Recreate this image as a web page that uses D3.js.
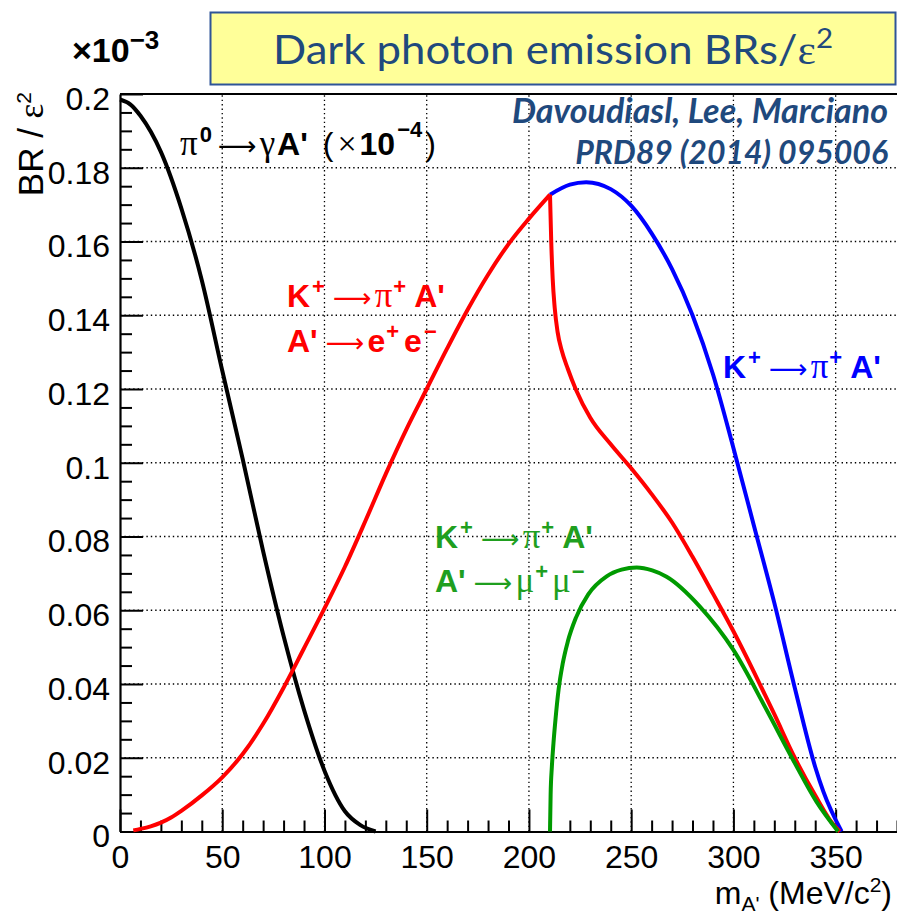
<!DOCTYPE html>
<html>
<head>
<meta charset="utf-8">
<script src="https://cdn.jsdelivr.net/npm/d3@7/dist/d3.min.js"></script>
<style>
body { margin: 0; background: #fff; }
svg { display: block; }
</style>
</head>
<body>
<svg id="chart" width="897" height="914"></svg>
<script>
// curves, x in MeV/c^2, y in units of 1e-3
var pi0X = [0, 5, 10, 20, 30, 40, 50, 60, 70, 80, 90, 100, 110, 117.4, 125];
var pi0Y = [0.1985, 0.1972, 0.1941, 0.1843, 0.169, 0.1495, 0.125, 0.101, 0.076, 0.053, 0.033, 0.0165, 0.0055, 0.0018, 0];

var eeRiseX = [6.5, 10, 15, 20, 25, 30, 40, 50, 60, 70, 80, 90, 100, 110, 120, 130, 140, 150, 160, 170, 180, 190, 200, 210.3];
var eeRiseY = [0.0003, 0.0007, 0.0014, 0.0024, 0.0038, 0.0056, 0.0098, 0.0147, 0.021, 0.0292, 0.039, 0.0497, 0.0605, 0.0718, 0.0842, 0.097, 0.109, 0.12, 0.131, 0.1415, 0.151, 0.1593, 0.1662, 0.1727];

var eeFallX = [210.3, 210.9, 211.6, 212.6, 214, 216, 219, 223, 230, 240, 250, 260, 270, 280, 290, 300, 310, 320, 330, 340, 348, 352];
var eeFallY = [0.1727, 0.16, 0.15, 0.142, 0.1355, 0.1305, 0.1255, 0.1198, 0.1122, 0.105, 0.0985, 0.0915, 0.0838, 0.0745, 0.0645, 0.0543, 0.0433, 0.0318, 0.02, 0.0098, 0.0025, 0];

var kpiX = [210.3, 220, 228, 240, 250, 260, 270, 280, 290, 300, 310, 320, 330, 340, 344, 352.9];
var kpiY = [0.1727, 0.1754, 0.1761, 0.1742, 0.1697, 0.1622, 0.1525, 0.14, 0.124, 0.104, 0.083, 0.062, 0.039, 0.0175, 0.0108, 0];

var mumuX = [210.3, 210.6, 211.2, 212, 213, 214.5, 216.5, 219, 223, 229, 238, 245.3, 252.7, 260.3, 267.3, 283.6, 299.9, 316.2, 329.2, 340.6, 351.2];
var mumuY = [0, 0.01, 0.0175, 0.024, 0.0305, 0.0385, 0.0455, 0.0515, 0.058, 0.0643, 0.0692, 0.071, 0.0716, 0.0708, 0.0691, 0.061, 0.0493, 0.033, 0.0194, 0.0081, 0];

var xTicks = [0, 50, 100, 150, 200, 250, 300, 350];
var xTickLabels = ["0", "50", "100", "150", "200", "250", "300", "350"];
var yTicks = [0, 0.02, 0.04, 0.06, 0.08, 0.1, 0.12, 0.14, 0.16, 0.18, 0.2];
var yTickLabels = ["0", "0.02", "0.04", "0.06", "0.08", "0.1", "0.12", "0.14", "0.16", "0.18", "0.2"];

var svg = d3.select("#chart");
var sans = "'Liberation Sans', Arial, sans-serif";
var serif = "'Liberation Serif', 'DejaVu Serif', serif";

var x = d3.scaleLinear().domain([0, 380]).range([120, 897]);
var y = d3.scaleLinear().domain([0, 0.2]).range([831.5, 94]);

function pts(xs, ys) {
	return xs.map(function(d, i) { return [d, ys[i]]; });
}

//grid
svg.append("g").selectAll("line").data(xTicks.slice(1)).enter()
	.append("line")
	.attr("x1", function(d) { return x(d); })
	.attr("x2", function(d) { return x(d); })
	.attr("y1", y(0))
	.attr("y2", y(0.2))
	.attr("stroke", "#000")
	.attr("stroke-width", 1.3)
	.attr("stroke-dasharray", "1.4,3");
svg.append("g").selectAll("line").data(yTicks.slice(1, -1)).enter()
	.append("line")
	.attr("x1", x(0))
	.attr("x2", 897)
	.attr("y1", function(d) { return y(d); })
	.attr("y2", function(d) { return y(d); })
	.attr("stroke", "#000")
	.attr("stroke-width", 1.3)
	.attr("stroke-dasharray", "1.4,3");

//minor ticks
var xMinor = d3.range(0, 381, 10).filter(function(d) { return d % 50 != 0; });
var yMinor = d3.range(0, 41).map(function(i) { return i * 0.005; }).filter(function(d, i) { return i % 4 != 0; });

svg.append("g")
	.attr("transform", "translate(0," + y(0) + ")")
	.call(d3.axisBottom(x).tickValues(xMinor).tickSizeInner(-11).tickSizeOuter(0).tickFormat(""))
	.call(function(g) { g.select(".domain").remove(); g.selectAll("line").attr("stroke-width", 2); });
svg.append("g")
	.attr("transform", "translate(" + x(0) + ",0)")
	.call(d3.axisLeft(y).tickValues(yMinor).tickSizeInner(-12).tickSizeOuter(0).tickFormat(""))
	.call(function(g) { g.select(".domain").remove(); g.selectAll("line").attr("stroke-width", 2); });

//major axes
var xAxis = d3.axisBottom(x).tickValues(xTicks)
	.tickFormat(function(d, i) { return xTickLabels[i]; })
	.tickSizeInner(-22).tickSizeOuter(0).tickPadding(14);
var yAxis = d3.axisLeft(y).tickValues(yTicks)
	.tickFormat(function(d, i) { return yTickLabels[i]; })
	.tickSizeInner(-23).tickSizeOuter(0).tickPadding(10);

var gx = svg.append("g").attr("transform", "translate(0," + y(0) + ")").call(xAxis);
var gy = svg.append("g").attr("transform", "translate(" + x(0) + ",0)").call(yAxis);
[gx, gy].forEach(function(g) {
	g.attr("font-family", sans).attr("font-size", 32);
	g.selectAll("line").attr("stroke-width", 2);
	g.select(".domain").attr("stroke-width", 2.2);
	g.selectAll("text").attr("fill", "#000");
});
gy.selectAll("text").attr("dy", "0.48em");

//frame top
svg.append("line").attr("x1", x(0)).attr("x2", 897).attr("y1", y(0.2)).attr("y2", y(0.2))
	.attr("stroke", "#000").attr("stroke-width", 2.2);

//curves
var line = d3.line()
	.x(function(d) { return x(d[0]); })
	.y(function(d) { return y(d[1]); })
	.curve(d3.curveMonotoneX);

var curves = [
	{ data: pts(pi0X, pi0Y), color: "#000000" },
	{ data: pts(kpiX, kpiY), color: "#0000ff" },
	{ data: pts(eeRiseX, eeRiseY), color: "#ff0000" },
	{ data: pts(eeFallX, eeFallY), color: "#ff0000" },
	{ data: pts(mumuX, mumuY), color: "#009a00" }
];
svg.append("g").selectAll("path").data(curves).enter()
	.append("path")
	.attr("d", function(d) { return line(d.data); })
	.attr("fill", "none")
	.attr("stroke", function(d) { return d.color; })
	.attr("stroke-width", 4)
	.attr("stroke-linejoin", "round");

// text with super/subscripts: [text, kind, rise, dx]
function rich(xp, yp, parts, color, anchor) {
	var t = svg.append("text")
		.attr("x", xp).attr("y", yp)
		.attr("fill", color)
		.attr("text-anchor", anchor || "start");
	var cur = 0;
	parts.forEach(function(p) {
		var s = t.append("tspan").text(p[0]);
		var kind = p[1], rise = p[2] || 0;
		if (kind == "b") s.attr("font-family", sans).attr("font-weight", "bold").attr("font-size", 32);
		if (kind == "r") s.attr("font-family", sans).attr("font-size", 32);
		if (kind == "t") s.attr("font-family", sans).attr("font-size", 32);
		if (kind == "g") s.attr("font-family", serif).attr("font-size", 35);
		if (kind == "x") s.attr("font-family", serif).attr("font-size", 34);
		if (kind == "a") s.attr("font-family", "'DejaVu Sans'").attr("font-size", 27);
		if (kind == "sb") s.attr("font-family", sans).attr("font-weight", "bold").attr("font-size", 22);
		if (kind == "sr") s.attr("font-family", sans).attr("font-size", 21);
		s.attr("dy", (-rise) - cur);
		if (p[3]) s.attr("dx", p[3]);
		cur = -rise;
	});
	return t;
}

var arrow = "\u27F6";

rich(180, 155, [["\u03C0", "g"], ["0", "sb", 13, 2], [arrow, "a", 0, 6], ["\u03B3", "g", 0, 3], ["A'", "b", 0, 2],
	[" (", "r", 0, 6], ["\u00D7", "x", 0, 4], ["10", "b", 0, 3], ["\u22124", "sb", 18, 2], [")", "r", 0, 3]], "#000");

rich(287, 307, [["K", "b"], ["+", "sb", 13, 2], [arrow, "a", 0, 8], ["\u03C0", "g", 0, 3], ["+", "sb", 13, 1], ["A'", "b", 0, 8]], "#ff0000");
rich(287, 352, [["A'", "b"], [arrow, "a", 0, 8], ["e", "b", 0, 3], ["+", "sb", 13, 1], ["e", "b", 0, 5], ["\u2212", "sb", 13, 2]], "#ff0000");

rich(723, 378, [["K", "b"], ["+", "sb", 13, 2], [arrow, "a", 0, 8], ["\u03C0", "g", 0, 3], ["+", "sb", 13, 1], ["A'", "b", 0, 8]], "#0000ff");

rich(435, 548, [["K", "b"], ["+", "sb", 13, 2], [arrow, "a", 0, 8], ["\u03C0", "g", 0, 3], ["+", "sb", 13, 1], ["A'", "b", 0, 8]], "#1f9f1f");
rich(435, 592, [["A'", "b"], [arrow, "a", 0, 8], ["\u03BC", "g", 0, 3], ["+", "sb", 13, 1], ["\u03BC", "g", 0, 4], ["\u2212", "sb", 13, 1]], "#1f9f1f");

//axis titles
rich(892, 904, [["m", "t"], ["A'", "sr", -7], [" (MeV/c", "t"], ["2", "sr", 12], [")", "t"]], "#000", "end");
rich(0, 0, [["BR / ", "t"], ["\u03B5", "g"], ["2", "sr", 12]], "#000", "end")
	.attr("transform", "translate(43,92) rotate(-90)")
	.selectAll("tspan").filter(function(d, i) { return i == 0; }).attr("font-size", 35);

//multiplier
svg.append("text").attr("x", 72).attr("y", 62)
	.attr("font-family", sans).attr("font-weight", "bold").attr("font-size", 34)
	.text("\u00D710")
	.append("tspan").attr("dy", -13).attr("font-size", 26).text("\u22123");

//title box
svg.append("rect").attr("x", 210.5).attr("y", 12.5).attr("width", 685).attr("height", 72)
	.attr("fill", "#ffff99").attr("stroke", "#2f5597").attr("stroke-width", 2);
var title = svg.append("text").attr("x", 273).attr("y", 64)
	.attr("fill", "#1f497d").attr("font-family", "Lato, 'Open Sans', sans-serif").attr("font-size", 40)
	.attr("textLength", 560).attr("lengthAdjust", "spacingAndGlyphs");
title.append("tspan").text("Dark photon emission BRs/");
title.append("tspan").attr("font-family", serif).text("\u03B5");
title.append("tspan").attr("dy", -16).attr("font-size", 27).text("2");

//reference
svg.append("text").attr("x", 888).attr("y", 123)
	.attr("text-anchor", "end").attr("fill", "#1f497d")
	.attr("font-family", "Lato, 'Open Sans', sans-serif").attr("font-weight", "bold").attr("font-style", "italic")
	.attr("font-size", 34)
	.text("Davoudiasl, Lee, Marciano");
svg.append("text").attr("x", 888).attr("y", 163.5)
	.attr("text-anchor", "end").attr("fill", "#1f497d")
	.attr("font-family", "Lato, 'Open Sans', sans-serif").attr("font-weight", "bold").attr("font-style", "italic")
	.attr("font-size", 32)
	.text("PRD89 (2014) 095006");
</script>
</body>
</html>
